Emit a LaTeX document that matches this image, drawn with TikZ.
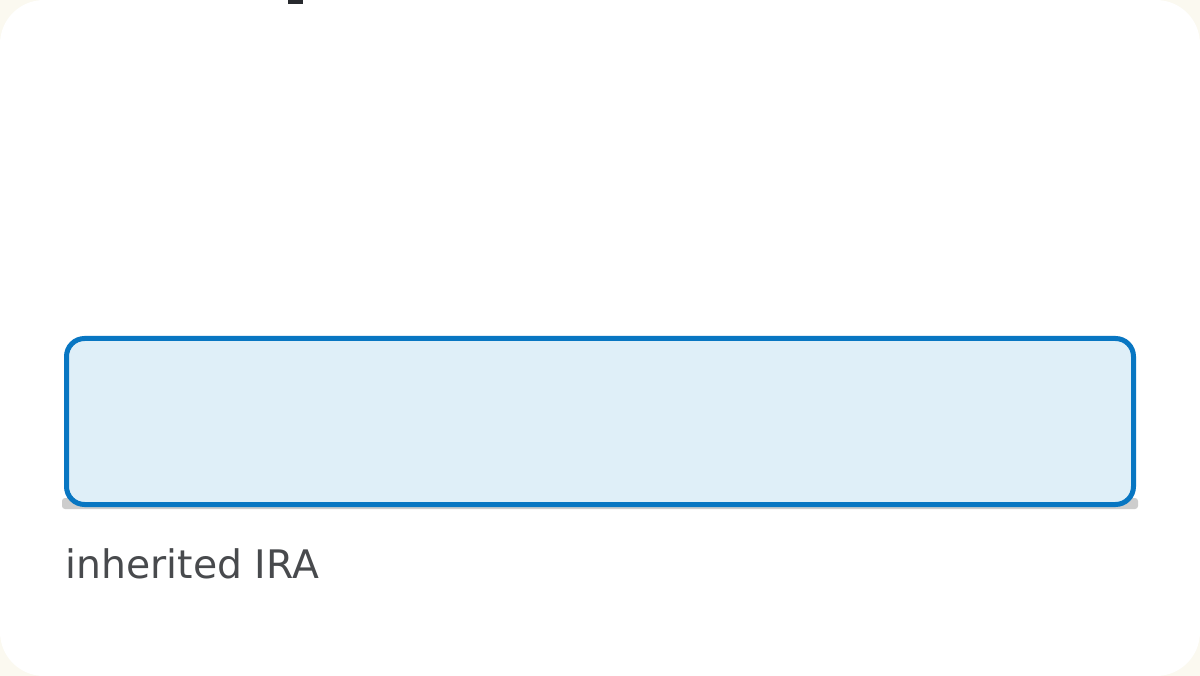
\documentclass[tikz,border=0pt]{standalone}
\usepackage{fontspec}
\setmainfont{DejaVu Sans}
\usepackage{tikz}

\definecolor{cardcream}{RGB}{251,249,240}
\definecolor{fieldblue}{RGB}{8,118,194}
\definecolor{fieldfill}{RGB}{223,239,248}
\definecolor{shadowgray}{RGB}{205,205,205}
\definecolor{labelgray}{RGB}{72,74,77}
\definecolor{headdark}{RGB}{40,42,46}

\begin{document}
\begin{tikzpicture}[x=1pt, y=-1pt,
    fieldbox/.style={draw=fieldblue, fill=fieldfill, line width=5pt, rounded corners=18pt,
        minimum width=1067pt, minimum height=166pt, inner sep=0pt},
    fieldlabel/.style={text=labelgray, font=\fontsize{39.3}{47}\selectfont, inner sep=0pt, anchor=base west}]
    \useasboundingbox (0, 0) rectangle (1200, 676);
    \fill[cardcream] (0, 0) rectangle (1200, 676);
    \fill[white, rounded corners=44pt] (0, 0) rectangle (1200, 676);
    \fill[headdark] (288, 0) rectangle (303, 4); % cut-off heading
    \fill[shadowgray, rounded corners=3pt] (62, 498) rectangle (1138, 509);
    \node[fieldbox] (field) at (600, 421.5) {};
    \node[fieldlabel] (label) at (65.5, 578) {inherited IRA};
\end{tikzpicture}
\end{document}
